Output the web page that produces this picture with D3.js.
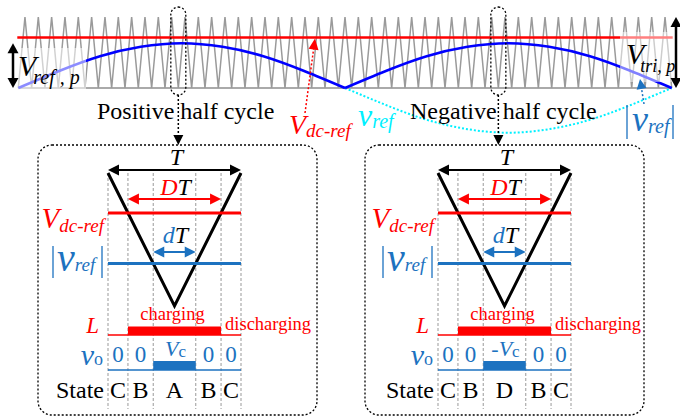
<!DOCTYPE html>
<html><head><meta charset="utf-8">
<script src="https://cdn.jsdelivr.net/npm/d3@7"></script>
<style>
html,body{margin:0;padding:0;background:#fff;}
svg{display:block;}
text{font-family:"Liberation Serif","Times New Roman",serif;}
</style></head><body>
<svg id="chart" width="680" height="418"></svg>
<script>
// ---------- data ----------
const carrierPeriods = 49;                 // triangular carrier periods per fundamental cycle
const vdcRef = 0.71;                       // V_dc-ref, per unit of V_tri,p
const refPeak = 0.63;                      // V_ref,p, per unit of V_tri,p
// |v_ref| over one half cycle: phase and fraction of V_ref,p
const refPhase = [0, 0.125, 0.25, 0.375, 0.5, 0.625, 0.75, 0.875, 1];
const refShape = [0, 0.38, 0.71, 0.92, 1, 0.92, 0.71, 0.38, 0];
const halfCycles = ["Positive half cycle", "Negative half cycle"];
const zoomValley = [12, 36];               // carrier valley enlarged for each half cycle
const boxVdc = 0.70;                       // V_dc-ref inside the enlarged period
const boxVref = 0.32;                      // |v_ref| sample inside the enlarged period
const stateLabels = [["C", "B", "A", "B", "C"], ["C", "B", "D", "B", "C"]];
const voLabels = [["0", "0", "Vc", "0", "0"], ["0", "0", "-Vc", "0", "0"]];

// ---------- colours ----------
const RED = "#ff0000", BLUE = "#0000ff", CYAN = "#00f0ff", MBLUE = "#1c72c0", GRAY = "#9a9a9a";

const svg = d3.select("#chart");

// ---------- helpers ----------
function arrowHead(sel, x, y, ang, len, hw, color) {
  const bx = x - len * Math.cos(ang), by = y - len * Math.sin(ang);
  const px = -Math.sin(ang) * hw, py = Math.cos(ang) * hw;
  sel.append("path").attr("d", `M${x},${y}L${bx + px},${by + py}L${bx - px},${by - py}Z`).attr("fill", color);
}
function arrow(sel, x1, y1, x2, y2, o) {
  const ang = Math.atan2(y2 - y1, x2 - x1), len = o.len || 9, hw = o.hw || 4.5;
  let sx = x1, sy = y1, ex = x2, ey = y2;
  if (o.start) { sx += len * 0.7 * Math.cos(ang); sy += len * 0.7 * Math.sin(ang); }
  if (o.end) { ex -= len * 0.7 * Math.cos(ang); ey -= len * 0.7 * Math.sin(ang); }
  sel.append("line").attr("x1", sx).attr("y1", sy).attr("x2", ex).attr("y2", ey)
    .attr("stroke", o.color).attr("stroke-width", o.width || 2)
    .attr("stroke-dasharray", o.dash || null);
  if (o.start) arrowHead(sel, x1, y1, ang + Math.PI, len, hw, o.color);
  if (o.end) arrowHead(sel, x2, y2, ang, len, hw, o.color);
}
// text built from runs: {t, it, size, sub (baseline offset), fill, dx}
function rich(sel, x, y, parts, anchor) {
  const t = sel.append("text").attr("x", x).attr("y", y).attr("text-anchor", anchor || "start");
  let cur = 0;
  parts.forEach(p => {
    const s = t.append("tspan").text(p.t).attr("font-size", p.size)
      .attr("font-style", p.it ? "italic" : "normal").attr("fill", p.fill || "#000");
    const target = p.sub || 0;
    if (target !== cur) { s.attr("dy", target - cur); cur = target; }
    if (p.dx) s.attr("dx", p.dx);
  });
  return t;
}

// ---------- top strip: carrier, reference, V_dc-ref ----------
const xTop = d3.scaleLinear().domain([0, 1]).range([18.3, 671.7]);
const yTop = d3.scaleLinear().domain([0, 1]).range([88, 17]);
const strip = svg.append("g");

strip.append("line").attr("x1", xTop(0)).attr("x2", xTop(1)).attr("y1", yTop(0)).attr("y2", yTop(0))
  .attr("stroke", "#aaa").attr("stroke-width", 2);

const carrier = d3.range(carrierPeriods * 2 + 1).map(i => [i / (carrierPeriods * 2), i % 2]);
strip.append("path").datum(carrier)
  .attr("d", d3.line().x(d => xTop(d[0])).y(d => yTop(d[1])))
  .attr("fill", "none").attr("stroke", GRAY).attr("stroke-width", 1.5);

strip.append("line").attr("x1", xTop(0) - 1).attr("x2", xTop(1) + 1)
  .attr("y1", yTop(vdcRef)).attr("y2", yTop(vdcRef))
  .attr("stroke", RED).attr("stroke-width", 2.5);

const refLine = d3.line().curve(d3.curveNatural).x(d => xTop(d[0])).y(d => yTop(d[1]));
// negative half of v_ref (dotted)
strip.append("path").datum(refPhase.map((p, i) => [0.5 + p * 0.5, -refPeak * refShape[i]]))
  .attr("d", refLine).attr("fill", "none").attr("stroke", CYAN)
  .attr("stroke-width", 2).attr("stroke-dasharray", "2,2");
// |v_ref| over both half cycles
[0, 1].forEach(h => {
  strip.append("path").datum(refPhase.map((p, i) => [h * 0.5 + p * 0.5, refPeak * refShape[i]]))
    .attr("d", refLine).attr("fill", "none").attr("stroke", BLUE).attr("stroke-width", 2.5);
});

// label backgrounds soften what lies under them
strip.append("rect").attr("x", 16).attr("y", 48).attr("width", 70).attr("height", 44)
  .attr("fill", "#fff").attr("opacity", 0.55);
strip.append("rect").attr("x", 620).attr("y", 32).attr("width", 54).attr("height", 50)
  .attr("fill", "#fff").attr("opacity", 0.5);

// V_ref,p and V_tri,p amplitude arrows
arrow(strip, 13, yTop(refPeak), 13, yTop(0), { color: "#000", width: 2.5, start: true, end: true, len: 10, hw: 5.5 });
rich(strip, 18, 76, [{ t: "V", it: true, size: 30 }, { t: "ref , p", it: true, size: 20, sub: 8, dx: -3 }]);
arrow(strip, 676, yTop(1), 676, yTop(0), { color: "#000", width: 2.5, start: true, end: true, len: 10, hw: 5.5 });
rich(strip, 626, 64, [{ t: "V", it: true, size: 30 }, { t: "tri, p", it: true, size: 18, sub: 8, dx: -4 }]);

// enlarged-period markers and pointers
zoomValley.forEach((k, i) => {
  const cx = xTop(k / carrierPeriods);
  strip.append("rect").attr("x", cx - 7.5).attr("y", 7).attr("width", 15).attr("height", 88)
    .attr("rx", 7.5).attr("fill", "none").attr("stroke", "#000").attr("stroke-width", 1.3)
    .attr("stroke-dasharray", "2,2");
  arrow(strip, cx, 95, cx, 145, { color: "#000", width: 1.5, dash: "2,2", end: true, len: 10, hw: 5 });
});

// half-cycle captions
strip.append("text").attr("x", 97).attr("y", 119).attr("font-size", 24).text(halfCycles[0]);
strip.append("text").attr("x", 410).attr("y", 119).attr("font-size", 24).text(halfCycles[1]);

// V_dc-ref pointer
arrow(strip, 305, 113, 315, yTop(vdcRef) + 1, { color: RED, width: 1.5, dash: "2,2", end: true, len: 11, hw: 5 });
rich(strip, 289, 134, [{ t: "V", it: true, size: 28, fill: RED }, { t: "dc-ref", it: true, size: 19, sub: 3, fill: RED }]);
// v_ref label
rich(strip, 358, 126, [{ t: "v", it: true, size: 32, fill: CYAN }, { t: "ref", it: true, size: 20, sub: 2, fill: CYAN }]);
// |v_ref| pointer
arrow(strip, 644, 104, 640, 79, { color: MBLUE, width: 1.5, dash: "2,2", end: true, len: 10, hw: 5 });
[627, 673].forEach(x => strip.append("line").attr("x1", x).attr("x2", x).attr("y1", 105).attr("y2", 139)
  .attr("stroke", MBLUE).attr("stroke-width", 1.3));
rich(strip, 632, 131, [{ t: "v", it: true, size: 36, fill: MBLUE }, { t: "ref", it: true, size: 20, sub: 2, fill: MBLUE }]);

// ---------- enlarged switching period, one box per half cycle ----------
const boxLeft = [38, 365];
const innerShift = [0, 330];
const yBox = d3.scaleLinear().domain([0, 1]).range([306, 173]);

function drawBox(i) {
  const g = svg.append("g");
  const s = innerShift[i];
  const xb = d3.scaleLinear().domain([0, 1]).range([108 + s, 241 + s]);
  g.append("rect").attr("x", boxLeft[i]).attr("y", 145).attr("width", 279).attr("height", 270)
    .attr("rx", 14).attr("fill", "none").attr("stroke", "#000").attr("stroke-width", 1.3)
    .attr("stroke-dasharray", "2,2");

  // crossing instants of the carrier with V_dc-ref and |v_ref|
  const tD = [(1 - boxVdc) / 2, (1 + boxVdc) / 2];
  const td = [(1 - boxVref) / 2, (1 + boxVref) / 2];
  const edges = [0, tD[0], td[0], td[1], tD[1], 1];
  const mids = d3.range(5).map(j => (edges[j] + edges[j + 1]) / 2);

  edges.forEach(t => g.append("line").attr("x1", xb(t)).attr("x2", xb(t)).attr("y1", 173).attr("y2", 409)
    .attr("stroke", "#999").attr("stroke-width", 1).attr("stroke-dasharray", "3,2"));

  // period T
  arrow(g, xb(0), 170, xb(1), 170, { color: "#000", width: 2, start: true, end: true, len: 11, hw: 5.5 });
  g.append("text").attr("x", xb(0.5) + 2).attr("y", 165).attr("text-anchor", "middle")
    .attr("font-size", 24).attr("font-style", "italic").text("T");

  // carrier period
  g.append("path").datum([[0, 1], [0.5, 0], [1, 1]])
    .attr("d", d3.line().x(d => xb(d[0])).y(d => yBox(d[1])))
    .attr("fill", "none").attr("stroke", "#000").attr("stroke-width", 3);

  // DT
  arrow(g, xb(tD[0]), 199, xb(tD[1]), 199, { color: RED, width: 2, start: true, end: true, len: 11, hw: 5.5 });
  rich(g, xb(0.5) + 1, 195, [{ t: "D", it: true, size: 24, fill: RED }, { t: "T", it: true, size: 24 }], "middle");
  g.append("line").attr("x1", xb(0)).attr("x2", xb(1)).attr("y1", yBox(boxVdc)).attr("y2", yBox(boxVdc))
    .attr("stroke", RED).attr("stroke-width", 3);
  rich(g, 104 + s, 228, [{ t: "V", it: true, size: 29, fill: RED }, { t: "dc-ref", it: true, size: 19, sub: 4, fill: RED }], "end");

  // dT
  arrow(g, xb(td[0]), 252, xb(td[1]), 252, { color: MBLUE, width: 2, start: true, end: true, len: 11, hw: 5.5 });
  rich(g, xb(0.5) + 1, 243, [{ t: "d", it: true, size: 24, fill: MBLUE }, { t: "T", it: true, size: 24 }], "middle");
  g.append("line").attr("x1", xb(0)).attr("x2", xb(1)).attr("y1", yBox(boxVref)).attr("y2", yBox(boxVref))
    .attr("stroke", MBLUE).attr("stroke-width", 3);
  [53 + s, 102 + s].forEach(x => g.append("line").attr("x1", x).attr("x2", x).attr("y1", 246).attr("y2", 278)
    .attr("stroke", MBLUE).attr("stroke-width", 1.3));
  rich(g, 57 + s, 271, [{ t: "v", it: true, size: 40, fill: MBLUE }, { t: "ref", it: true, size: 19, sub: 0, fill: MBLUE }]);

  // inductor L
  const yL = 335;
  g.append("line").attr("x1", xb(0)).attr("x2", xb(1)).attr("y1", yL).attr("y2", yL)
    .attr("stroke", RED).attr("stroke-width", 1.5);
  g.append("rect").attr("x", xb(tD[0])).attr("y", yL - 8.5).attr("width", xb(tD[1]) - xb(tD[0])).attr("height", 8.5)
    .attr("fill", RED);
  g.append("text").attr("x", xb(0.5) - 2).attr("y", 320).attr("text-anchor", "middle")
    .attr("font-size", 18.5).attr("fill", RED).text("charging");
  g.append("text").attr("x", xb(tD[1]) + 4).attr("y", 330)
    .attr("font-size", 18.5).attr("fill", RED).text("discharging");
  g.append("text").attr("x", 99 + s).attr("y", 333).attr("text-anchor", "end")
    .attr("font-size", 23).attr("font-style", "italic").attr("fill", RED).text("L");

  // output voltage v_o
  const yV = 370;
  g.append("line").attr("x1", xb(0)).attr("x2", xb(1)).attr("y1", yV).attr("y2", yV)
    .attr("stroke", MBLUE).attr("stroke-width", 1.5);
  g.append("rect").attr("x", xb(td[0])).attr("y", yV - 9).attr("width", xb(td[1]) - xb(td[0])).attr("height", 9)
    .attr("fill", MBLUE);
  rich(g, 103 + s, 365, [{ t: "v", it: true, size: 30, fill: MBLUE }, { t: "o", size: 18, sub: 0, fill: MBLUE }], "end");
  voLabels[i].forEach((lab, j) => {
    if (lab === "0") {
      g.append("text").attr("x", xb(mids[j])).attr("y", 362).attr("text-anchor", "middle")
        .attr("font-size", 23).attr("fill", MBLUE).text(lab);
    } else {
      const neg = lab.startsWith("-");
      rich(g, xb(mids[j]) + 1, 356, [
        { t: neg ? "-" : "", size: 22, fill: MBLUE },
        { t: "V", it: true, size: 22, fill: MBLUE },
        { t: "c", size: 17, sub: 1, fill: MBLUE }], "middle");
    }
  });

  // switching states
  g.append("text").attr("x", 104 + s).attr("y", 398).attr("text-anchor", "end")
    .attr("font-size", 24).text("State");
  stateLabels[i].forEach((lab, j) => {
    g.append("text").attr("x", xb(mids[j])).attr("y", 398).attr("text-anchor", "middle")
      .attr("font-size", 24).text(lab);
  });
}
drawBox(0);
drawBox(1);
</script>
</body></html>
